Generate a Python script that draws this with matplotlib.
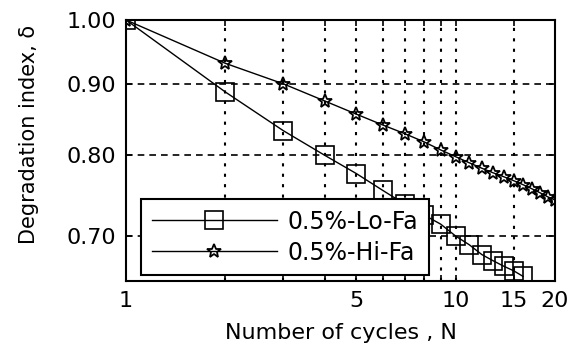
import matplotlib
matplotlib.use("Agg")
import matplotlib.pyplot as plt
from matplotlib.ticker import FixedLocator, FixedFormatter, NullLocator

# cycles and degradation index
cycles_lo = list(range(1, 17))
delta_lo = [1.000, 0.888, 0.833, 0.800, 0.776, 0.755, 0.738, 0.725,
            0.714, 0.700, 0.690, 0.679, 0.672, 0.666, 0.661, 0.655]

cycles_hi = list(range(1, 21))
delta_hi = [1.000, 0.931, 0.900, 0.875, 0.856, 0.841, 0.829, 0.818,
            0.807, 0.798, 0.790, 0.783, 0.777, 0.772, 0.767, 0.762,
            0.757, 0.752, 0.747, 0.743]

labels = ["0.5%-Lo-Fa", "0.5%-Hi-Fa"]

x_ticks = [1, 2, 3, 4, 5, 6, 7, 8, 9, 10, 15, 20]
x_ticklabels = ["1", "", "", "", "5", "", "", "", "", "10", "15", "20"]
y_ticks = [0.70, 0.80, 0.90, 1.00]
y_ticklabels = ["0.70", "0.80", "0.90", "1.00"]

plt.rcParams["font.family"] = "DejaVu Sans"
plt.rcParams["font.size"] = 16

fig = plt.figure(figsize=(5.68, 3.45), dpi=100)
ax = fig.add_axes([0.222, 0.1855, 0.755, 0.7565])

ax.set_xscale("log")
ax.set_yscale("log")

ax.plot(cycles_lo, delta_lo, color="k", lw=1.0, marker="s", ms=12.5,
        mfc="none", mec="k", mew=1.2, label=labels[0], zorder=3)
ax.plot(cycles_hi, delta_hi, color="k", lw=1.0, marker="*", ms=10,
        mfc="none", mec="k", mew=1.3, label=labels[1], zorder=3)

ax.set_xlim(1, 20)
ax.set_ylim(0.65, 1.0)

ax.xaxis.set_major_locator(FixedLocator(x_ticks))
ax.xaxis.set_major_formatter(FixedFormatter(x_ticklabels))
ax.xaxis.set_minor_locator(NullLocator())
ax.yaxis.set_major_locator(FixedLocator(y_ticks))
ax.yaxis.set_major_formatter(FixedFormatter(y_ticklabels))
ax.yaxis.set_minor_locator(NullLocator())

ax.tick_params(direction="in", length=4, width=1.2, top=True, right=True,
               labelsize=16, pad=7)

# vertical grid dotted, horizontal dashed
for xv in x_ticks[1:-1]:
    ax.axvline(xv, color="k", lw=1.5, ls=(0, (1.5, 3.5)), zorder=1)
for yv in y_ticks[:-1]:
    ax.axhline(yv, color="k", lw=1.2, ls=(0, (4, 3)), zorder=1)

for sp in ax.spines.values():
    sp.set_linewidth(1.5)

ax.set_xlabel("Number of cycles , N", fontsize=16, labelpad=9)
ax.set_ylabel("Degradation index, \u03b4", fontsize=15)
ax.yaxis.set_label_coords(-0.204, 0.56)

leg = ax.legend(loc="lower left", bbox_to_anchor=(0.035, 0.022),
                borderaxespad=0, fancybox=False, framealpha=1,
                edgecolor="k", handlelength=5.3, handletextpad=0.45,
                labelspacing=0.3, borderpad=0.45, fontsize=17)
leg.get_frame().set_linewidth(1.5)
leg.set_zorder(5)

fig.savefig("out.png", dpi=100)
